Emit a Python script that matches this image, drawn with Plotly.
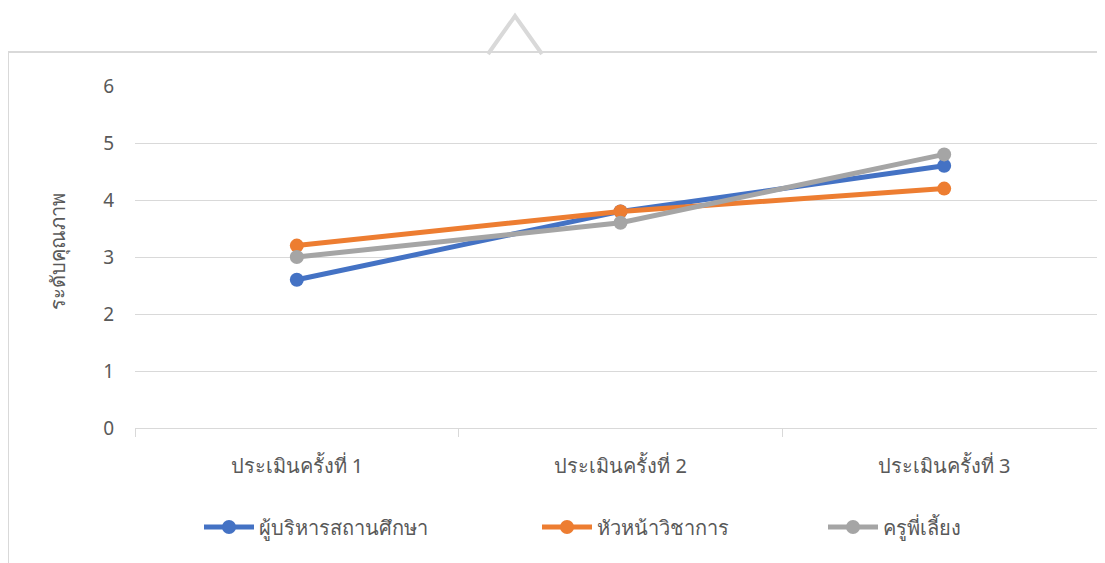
import plotly.graph_objects as go

categories = ["ประเมินครั้งที่ 1", "ประเมินครั้งที่ 2", "ประเมินครั้งที่ 3"]
series_names = ["ผู้บริหารสถานศึกษา", "หัวหน้าวิชาการ", "ครูพี่เลี้ยง"]
admin_vals = [2.6, 3.8, 4.6]
academic_vals = [3.2, 3.8, 4.2]
mentor_vals = [3.0, 3.6, 4.8]
y_title = "ระดับคุณภาพ"
y_ticks = [0, 1, 2, 3, 4, 5, 6]

colors = ["#4472C4", "#ED7D31", "#A5A5A5"]
FONT = "Segoe UI, Leelawadee UI, Noto Sans, Tahoma, sans-serif"
TXT = "#595959"

OFF = 8  # page body offset
W, H = 1105, 563
# screen coords of plot area
SX0, SX1, SY0, SY1 = 135, 1106, 86, 428
L = SX0 - OFF
T = SY0 - OFF
R = W - (SX1 - OFF)
B = H - (SY1 - OFF)
pw = W - L - R
ph = H - T - B


def px(xs):
    return (xs - SX0) / pw


def py(ys):
    return (SY1 - ys) / ph


fig = go.Figure()
legend_ids = ["legend", "legend2", "legend3"]
for name, vals, col, lg in zip(series_names, [admin_vals, academic_vals, mentor_vals], colors, legend_ids):
    fig.add_trace(go.Scatter(
        x=categories, y=vals, name=name, mode="lines+markers",
        line=dict(color=col, width=5),
        marker=dict(color=col, size=14),
        legend=lg,
    ))

leg_common = dict(orientation="h", yanchor="middle", xanchor="left",
                  font=dict(family=FONT, size=20, color=TXT),
                  bgcolor="rgba(0,0,0,0)", itemwidth=50)
legend_x = [199, 537, 823]
layout_legends = {}
for lg, lx in zip(legend_ids, legend_x):
    layout_legends[lg] = dict(leg_common, x=px(lx), y=py(527))

fig.update_layout(
    width=W, height=H,
    margin=dict(l=L, r=R, t=T, b=B),
    paper_bgcolor="white", plot_bgcolor="white",
    showlegend=True,
    **layout_legends,
    xaxis=dict(
        type="category", range=[-0.5, 2.5],
        showgrid=False, showline=True, linecolor="#D9D9D9", linewidth=1.3,
        ticks="outside", tickson="boundaries", ticklen=8, tickcolor="#D9D9D9",
        tickfont=dict(family=FONT, size=20, color=TXT),
        ticklabelstandoff=20,
        zeroline=False, fixedrange=True,
    ),
    yaxis=dict(
        range=[0, 6], tickvals=y_ticks,
        showgrid=True, gridcolor="#D9D9D9", gridwidth=1.3,
        showline=False, zeroline=False,
        tickfont=dict(family=FONT, size=19, color=TXT),
        ticklabelstandoff=20,
    ),
)

fig.add_annotation(
    text=y_title, textangle=-90, xref="paper", yref="paper",
    x=px(57), y=py(252), xanchor="center", yanchor="middle",
    showarrow=False, font=dict(family=FONT, size=20, color=TXT),
)

# chart border box and pointer triangle
fig.add_shape(type="rect", xref="paper", yref="paper",
              x0=px(8), y0=py(620), x1=px(1130), y1=py(52),
              line=dict(color="#D9D9D9", width=2), layer="below")
fig.add_shape(type="path", xref="paper", yref="paper",
              path=f"M {px(488)},{py(54)} L {px(515)},{py(16)} L {px(542)},{py(54)}",
              line=dict(color="#D9D9D9", width=4))

fig.write_html("out.html")
